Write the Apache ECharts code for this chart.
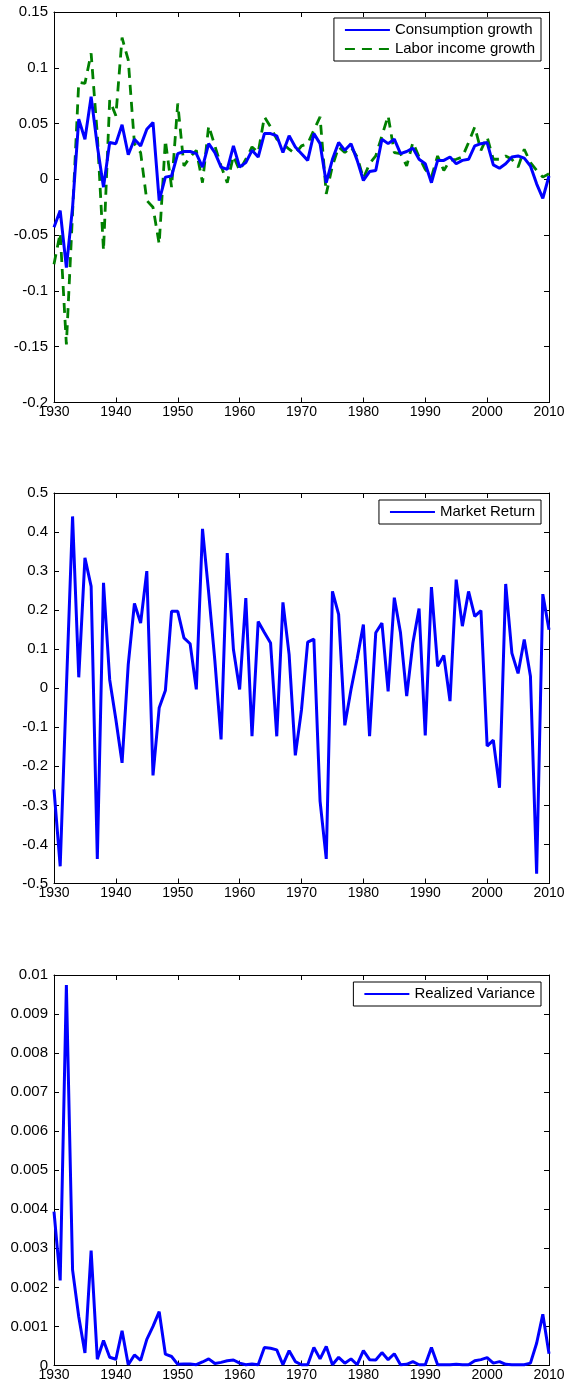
<!DOCTYPE html>
<html>
<head>
<meta charset="utf-8">
<script src="https://cdn.jsdelivr.net/npm/echarts@6/dist/echarts.min.js"></script>
<style>
html,body{margin:0;padding:0;background:#fff;}
#c{width:569px;height:1390px;}
</style>
</head>
<body>
<div id="c"></div>
<script>
const years = [1930,1931,1932,1933,1934,1935,1936,1937,1938,1939,
1940,1941,1942,1943,1944,1945,1946,1947,1948,1949,
1950,1951,1952,1953,1954,1955,1956,1957,1958,1959,
1960,1961,1962,1963,1964,1965,1966,1967,1968,1969,
1970,1971,1972,1973,1974,1975,1976,1977,1978,1979,
1980,1981,1982,1983,1984,1985,1986,1987,1988,1989,
1990,1991,1992,1993,1994,1995,1996,1997,1998,1999,
2000,2001,2002,2003,2004,2005,2006,2007,2008,2009,2010];

const consumptionGrowth = [-0.043,-0.028,-0.079,-0.025,0.054,0.036,0.074,0.030,-0.007,0.033,
0.032,0.049,0.022,0.036,0.030,0.045,0.051,-0.019,0.002,0.003,
0.023,0.025,0.025,0.023,0.011,0.032,0.024,0.011,0.009,0.030,
0.011,0.015,0.026,0.020,0.041,0.041,0.039,0.024,0.039,0.029,
0.023,0.017,0.041,0.032,-0.003,0.018,0.033,0.026,0.032,0.017,
-0.001,0.007,0.008,0.036,0.032,0.036,0.023,0.025,0.028,0.018,
0.014,-0.003,0.017,0.017,0.020,0.014,0.017,0.018,0.030,0.032,
0.033,0.013,0.010,0.014,0.020,0.021,0.019,0.012,-0.004,-0.017,0.003];

const laborIncomeGrowth = [-0.076,-0.048,-0.148,-0.030,0.087,0.086,0.113,0.040,-0.064,0.071,
0.057,0.127,0.107,0.032,0.024,-0.019,-0.025,-0.058,0.035,-0.007,
0.068,0.012,0.020,0.026,-0.003,0.048,0.030,0.012,-0.003,0.021,
0.008,0.018,0.029,0.024,0.056,0.047,0.036,0.032,0.027,0.023,
0.030,0.032,0.044,0.056,-0.013,0.012,0.029,0.024,0.029,0.020,
0.001,0.014,0.021,0.039,0.057,0.024,0.023,0.012,0.033,0.020,
0.009,0.002,0.021,0.008,0.017,0.018,0.020,0.033,0.047,0.026,
0.038,0.018,0.018,0.021,0.018,0.011,0.027,0.015,0.008,0.002,0.005];

const marketReturn = [-0.259,-0.456,0.000,0.440,0.028,0.334,0.261,-0.437,0.270,0.022,
-0.080,-0.191,0.061,0.217,0.167,0.300,-0.223,-0.050,-0.006,0.197,
0.197,0.129,0.114,-0.003,0.408,0.244,0.070,-0.131,0.346,0.099,
-0.003,0.231,-0.123,0.171,0.143,0.116,-0.123,0.220,0.086,-0.172,
-0.055,0.118,0.126,-0.289,-0.437,0.248,0.189,-0.095,-0.003,0.076,
0.163,-0.123,0.142,0.167,-0.008,0.232,0.142,-0.020,0.116,0.204,
-0.121,0.259,0.056,0.084,-0.033,0.278,0.159,0.248,0.184,0.199,
-0.148,-0.133,-0.255,0.267,0.090,0.038,0.125,0.031,-0.475,0.241,0.150];

const realizedVariance = [0.00394,0.00218,0.00974,0.00245,0.00125,0.00032,0.00294,0.00016,0.00064,0.00021,
0.00016,0.00089,0.00002,0.00027,0.00013,0.00067,0.00100,0.00138,0.00029,0.00023,
0.00003,0.00004,0.00004,0.00002,0.00009,0.00017,0.00005,0.00008,0.00012,0.00014,
0.00006,0.00002,0.00004,0.00002,0.00046,0.00044,0.00040,0.00002,0.00038,0.00010,
0.00002,0.00002,0.00046,0.00017,0.00049,0.00002,0.00021,0.00006,0.00017,0.00002,
0.00038,0.00015,0.00014,0.00033,0.00015,0.00030,0.00002,0.00003,0.00010,0.00002,
0.00002,0.00046,0.00002,0.00002,0.00002,0.00003,0.00002,0.00002,0.00012,0.00015,
0.00020,0.00006,0.00010,0.00003,0.00002,0.00002,0.00002,0.00006,0.00057,0.00131,0.00030];

// tick settings: [min, max, interval]
const xTicks = [1930, 2010, 10];
const yTicks1 = [-0.2, 0.15, 0.05];
const yTicks2 = [-0.5, 0.5, 0.1];
const yTicks3 = [0, 0.01, 0.001];

const FONT = 'Liberation Sans, Arial, Helvetica, sans-serif';
const chart = echarts.init(document.getElementById('c'), null, {renderer: 'canvas'});

const tops = [12, 493, 975];
const H = 390.5;
const grids = tops.map(t => ({left: 54, right: 20, top: t, height: H, containLabel: false}));

function fmtNum(v) {
  const r = Math.round(v * 1e6) / 1e6;
  return String(r);
}

const xAxes = [], yAxes = [];
const yTickSets = [yTicks1, yTicks2, yTicks3];
for (let g = 0; g < 3; g++) {
  const axLine = {show: true, onZero: false, lineStyle: {color: '#000', width: 1}};
  const tick = {show: true, inside: true, length: 5, lineStyle: {color: '#000', width: 1}};
  xAxes.push({
    type: 'value', gridIndex: g, position: 'bottom', min: xTicks[0], max: xTicks[1], interval: xTicks[2],
    axisLine: axLine, axisTick: tick, splitLine: {show: false},
    axisLabel: {show: true, color: '#000', fontSize: 14, fontFamily: FONT, margin: 3,
      showMinLabel: true, showMaxLabel: true, formatter: v => String(v)}
  });
  xAxes.push({
    type: 'value', gridIndex: g, position: 'top', min: xTicks[0], max: xTicks[1], interval: xTicks[2],
    axisLine: axLine, axisTick: tick, splitLine: {show: false}, axisLabel: {show: false}
  });
  const yt = yTickSets[g];
  yAxes.push({
    type: 'value', gridIndex: g, position: 'left', min: yt[0], max: yt[1], interval: yt[2],
    axisLine: axLine, axisTick: tick, splitLine: {show: false},
    axisLabel: {show: true, color: '#000', fontSize: 15, fontFamily: FONT, margin: 6,
      showMinLabel: true, showMaxLabel: true, formatter: fmtNum}
  });
  yAxes.push({
    type: 'value', gridIndex: g, position: 'right', min: yt[0], max: yt[1], interval: yt[2],
    axisLine: axLine, axisTick: tick, splitLine: {show: false}, axisLabel: {show: false}
  });
}

const pair = arr => years.map((y, i) => [y, arr[i]]);

const legendBase = {
  orient: 'vertical', right: 28, itemWidth: 45, itemHeight: 14, itemGap: 3,
  padding: [4, 6, 4, 10], borderColor: '#000', borderWidth: 1, backgroundColor: '#fff',
  borderRadius: 0, selectedMode: false,
  itemStyle: {opacity: 0, borderWidth: 0},
  textStyle: {color: '#000', fontSize: 15, fontFamily: FONT, lineHeight: 16}
};

const option = {
  animation: false,
  backgroundColor: '#fff',
  grid: grids,
  xAxis: xAxes,
  yAxis: yAxes,
  legend: [
    Object.assign({}, legendBase, {top: 18, data: ['Consumption growth', 'Labor income growth']}),
    Object.assign({}, legendBase, {top: 500, data: ['Market Return']}),
    Object.assign({}, legendBase, {top: 982, data: ['Realized Variance']})
  ],
  series: [
    {name: 'Consumption growth', type: 'line', xAxisIndex: 0, yAxisIndex: 0, data: pair(consumptionGrowth),
      symbol: 'none', showSymbol: false, z: 3,
      lineStyle: {color: '#0000ff', width: 3}, itemStyle: {color: '#0000ff'}},
    {name: 'Labor income growth', type: 'line', xAxisIndex: 0, yAxisIndex: 0, data: pair(laborIncomeGrowth),
      symbol: 'none', showSymbol: false, z: 2,
      lineStyle: {color: '#008000', width: 2.8, type: [10, 7]}, itemStyle: {color: '#008000'}},
    {name: 'Market Return', type: 'line', xAxisIndex: 2, yAxisIndex: 2, data: pair(marketReturn),
      symbol: 'none', showSymbol: false,
      lineStyle: {color: '#0000ff', width: 3}, itemStyle: {color: '#0000ff'}},
    {name: 'Realized Variance', type: 'line', xAxisIndex: 4, yAxisIndex: 4, data: pair(realizedVariance),
      symbol: 'none', showSymbol: false,
      lineStyle: {color: '#0000ff', width: 3}, itemStyle: {color: '#0000ff'}}
  ]
};
chart.setOption(option);
</script>
</body>
</html>
